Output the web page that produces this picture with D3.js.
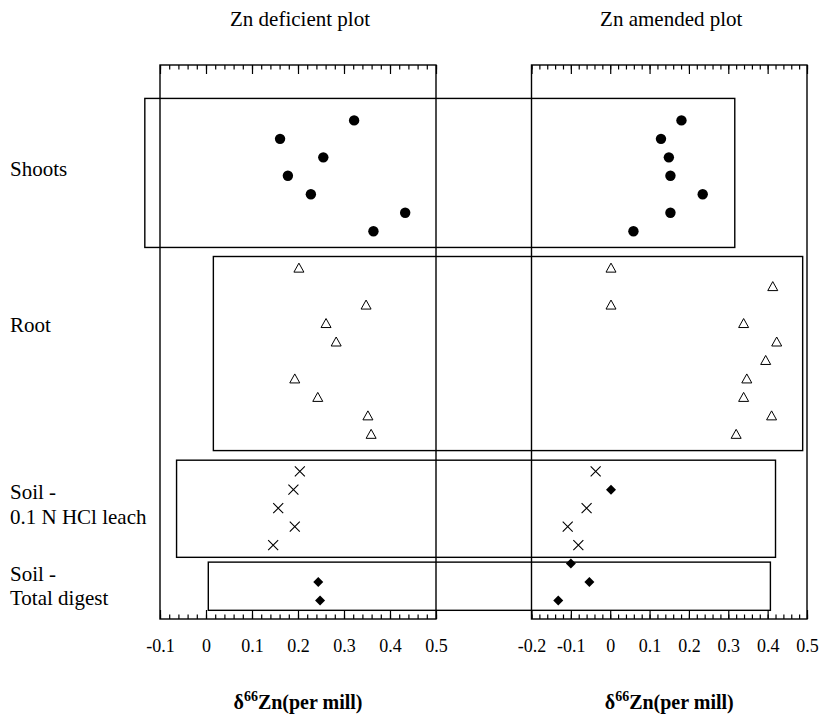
<!DOCTYPE html>
<html><head><meta charset="utf-8">
<script src="https://cdn.jsdelivr.net/npm/d3@7"></script>
<style>
body{margin:0;background:#fff}
text{font-family:"Liberation Serif","Times New Roman",serif;fill:#000}
</style>
</head><body><svg id="c" width="821" height="715"></svg>
<script>
// ---------- data ----------
const panelTitles = ["Zn deficient plot", "Zn amended plot"];
const groupLabels = [["Shoots"], ["Root"], ["Soil -", "0.1 N HCl leach"], ["Soil -", "Total digest"]];
const leftTicks = [-0.1, 0, 0.1, 0.2, 0.3, 0.4, 0.5];
const rightTicks = [-0.2, -0.1, 0, 0.1, 0.2, 0.3, 0.4, 0.5];

// sample row index (top to bottom) and delta66Zn values
const shootsRows = [0, 1, 2, 3, 4, 5, 6];
const shootsDef = [0.322, 0.161, 0.255, 0.178, 0.228, 0.433, 0.364];
const shootsAmd = [0.181, 0.129, 0.149, 0.153, 0.235, 0.153, 0.059];

const rootRowsDef = [8, 10, 11, 12, 14, 15, 16, 17];
const rootDef = [0.202, 0.348, 0.261, 0.283, 0.193, 0.243, 0.352, 0.359];
const rootRowsAmd = [8, 9, 10, 11, 12, 13, 14, 15, 16, 17];
const rootAmd = [0.002, 0.413, 0.002, 0.339, 0.423, 0.395, 0.347, 0.339, 0.410, 0.320];

const leachRowsDef = [19, 20, 21, 22, 23];
const leachDef = [0.204, 0.190, 0.157, 0.193, 0.146];
const leachRowsAmd = [19, 21, 22, 23];
const leachAmd = [-0.037, -0.060, -0.108, -0.081];

const totalRowsDef = [25, 26];
const totalDef = [0.244, 0.248];
const totalRowsAmd = [20, 24, 25, 26];
const totalAmd = [0.002, -0.100, -0.053, -0.132];

// group boxes: left edge (deficient scale), right edge (amended scale), top row, bottom row
const boxLeft = [-0.133, 0.016, -0.064, 0.005];
const boxRight = [0.3165, 0.489, 0.42, 0.407];
const boxTop = [-1.19, 7.37, 18.4, 23.92];
const boxBottom = [6.88, 17.88, 23.66, 26.53];

// ---------- layout ----------
const FONT = '"Liberation Serif","Times New Roman",serif';
const svg = d3.select("#c");
const yTop = 65, yBot = 619;
const y = d3.scaleLinear().domain([-3, 27]).range([yTop, yBot]);
const xL = d3.scaleLinear().domain([-0.1, 0.5]).range([160, 436]);
const xR = d3.scaleLinear().domain([-0.2, 0.5]).range([531.5, 807]);

// group boxes
const g0 = svg.append("g");
boxLeft.forEach((b, i) => {
  g0.append("rect")
    .attr("x", xL(b)).attr("y", y(boxTop[i]))
    .attr("width", xR(boxRight[i]) - xL(b))
    .attr("height", y(boxBottom[i]) - y(boxTop[i]))
    .attr("fill", "none").attr("stroke", "#000").attr("stroke-width", 1.4);
});

function fmt(d) {
  if (Math.abs(d) < 1e-9) return "0";
  return (d < 0 ? "-" : "") + Math.abs(d).toFixed(1);
}

function panel(x, ticks, title) {
  const [x0, x1] = x.range();
  const [d0, d1] = x.domain();
  const minor = d3.range(Math.round(d0 * 50), Math.round(d1 * 50) + 1).map(v => v / 50);
  const g = svg.append("g");
  const tg = g.append("g").attr("transform", `translate(0,${yTop})`);
  tg.call(d3.axisTop(x).tickValues(minor).tickSize(-4.5).tickFormat(""));
  tg.append("g").call(d3.axisTop(x).tickValues(ticks).tickSize(-9).tickFormat(""));
  const bg = g.append("g").attr("transform", `translate(0,${yBot})`);
  bg.call(d3.axisBottom(x).tickValues(minor).tickSize(-4.5).tickFormat(""));
  bg.append("g").call(d3.axisBottom(x).tickValues(ticks).tickSize(-9).tickPadding(20).tickFormat(fmt));
  g.selectAll(".domain").remove();
  g.selectAll(".tick line").attr("stroke", "#000").attr("stroke-width", 1.2);
  g.selectAll(".tick text").attr("font-family", FONT).style("font-family", FONT)
    .style("font-size", "18px").attr("fill", "#000");
  g.append("rect").attr("x", x0).attr("y", yTop).attr("width", x1 - x0).attr("height", yBot - yTop)
    .attr("fill", "none").attr("stroke", "#000").attr("stroke-width", 1.4);
  svg.append("text").attr("x", (x0 + x1) / 2 + 2).attr("y", 26).attr("text-anchor", "middle")
    .style("font-family", FONT).style("font-size", "21px").text(title);
  const t = svg.append("text").attr("x", (x0 + x1) / 2).attr("y", 709).attr("text-anchor", "middle")
    .style("font-family", FONT).style("font-size", "20px").style("font-weight", "bold");
  t.append("tspan").text("\u03B4");
  t.append("tspan").attr("dy", -8).style("font-size", "14px").text("66");
  t.append("tspan").attr("dy", 8).text("Zn(per mill)");
}
panel(xL, leftTicks, panelTitles[0]);
panel(xR, rightTicks, panelTitles[1]);

// group labels
const labelRows = [[2.65], [11.1], [20.1, 21.45], [24.55, 25.85]];
groupLabels.forEach((lines, i) => {
  lines.forEach((s, j) => {
    svg.append("text").attr("x", 10).attr("y", y(labelRows[i][j]) + 7)
      .style("font-family", FONT).style("font-size", "21px").text(s);
  });
});

// markers
const m = svg.append("g");
function circles(x, rows, vals) {
  m.selectAll(null).data(vals).enter().append("circle")
    .attr("cx", d => x(d)).attr("cy", (d, i) => y(rows[i])).attr("r", 5.2).attr("fill", "#000");
}
function triangles(x, rows, vals) {
  m.selectAll(null).data(vals).enter().append("path")
    .attr("d", "M0,-5L5,4L-5,4Z")
    .attr("transform", (d, i) => `translate(${x(d)},${y(rows[i])})`)
    .attr("fill", "#fff").attr("stroke", "#000").attr("stroke-width", 1);
}
function crosses(x, rows, vals) {
  m.selectAll(null).data(vals).enter().append("path")
    .attr("d", "M-5,-5L5,5M-5,5L5,-5")
    .attr("transform", (d, i) => `translate(${x(d)},${y(rows[i])})`)
    .attr("fill", "none").attr("stroke", "#000").attr("stroke-width", 1.1);
}
function diamonds(x, rows, vals) {
  m.selectAll(null).data(vals).enter().append("path")
    .attr("d", "M0,-5L5,0L0,5L-5,0Z")
    .attr("transform", (d, i) => `translate(${x(d)},${y(rows[i])})`)
    .attr("fill", "#000");
}
circles(xL, shootsRows, shootsDef);
circles(xR, shootsRows, shootsAmd);
triangles(xL, rootRowsDef, rootDef);
triangles(xR, rootRowsAmd, rootAmd);
crosses(xL, leachRowsDef, leachDef);
crosses(xR, leachRowsAmd, leachAmd);
diamonds(xL, totalRowsDef, totalDef);
diamonds(xR, totalRowsAmd, totalAmd);
</script>
</body></html>
